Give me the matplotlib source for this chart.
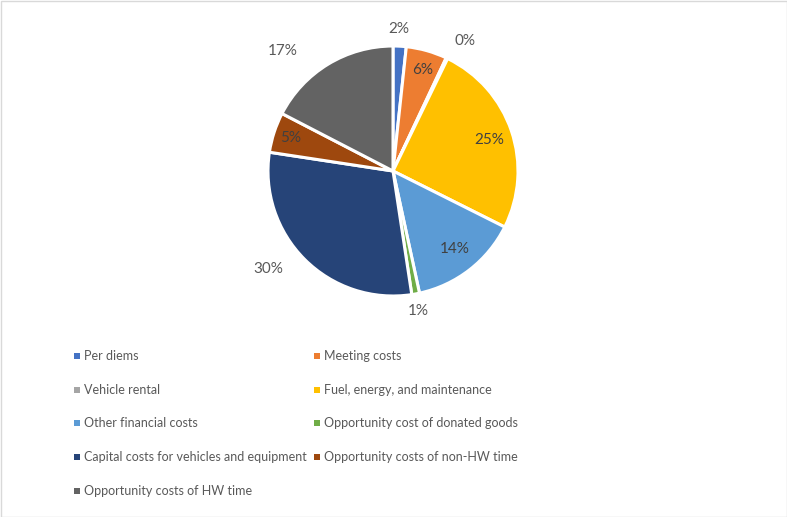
import numpy as np
import matplotlib
matplotlib.use("Agg")
import matplotlib.pyplot as plt
from matplotlib.patches import Rectangle

plt.rcParams['font.family'] = ['Lato', 'DejaVu Sans']

categories = ["Per diems", "Meeting costs", "Vehicle rental",
              "Fuel, energy, and maintenance", "Other financial costs",
              "Opportunity cost of donated goods",
              "Capital costs for vehicles and equipment",
              "Opportunity costs of non-HW time", "Opportunity costs of HW time"]
values = [1.7, 5.3, 0.2, 25.2, 14.2, 1.0, 29.8, 5.2, 17.4]
pct_labels = ["2%", "6%", "0%", "25%", "14%", "1%", "30%", "5%", "17%"]

colors = ["#4472C4", "#ED7D31", "#A5A5A5", "#FFC000", "#5B9BD5",
          "#70AD47", "#264478", "#9E480E", "#636363"]
# label placement styling (radial distance, angular shift in degrees)
label_dist = [1.14, 0.84, 1.19, 0.81, 0.80, 1.14, 1.27, 0.86, 1.30]
label_shift = [-0.6, 0.8, 3.4, 0.7, -0.5, 0.4, 7.0, 0.0, -11.2]
inside = [False, True, False, True, True, False, False, True, False]

W, H = 787, 517
fig = plt.figure(figsize=(W / 100, H / 100), dpi=100)

cx, cy, R = 393, 171, 125
ax = fig.add_axes([(cx - R) / W, (H - cy - R) / H, 2 * R / W, 2 * R / H])
wedges, _ = ax.pie(values, colors=colors, startangle=90, counterclock=False,
                   wedgeprops=dict(edgecolor="white", linewidth=2.2))
ax.set_xlim(-1, 1)
ax.set_ylim(-1, 1)
ax.set_aspect("equal")
ax.axis("off")

total = sum(values)
cum = 0.0
for i, v in enumerate(values):
    mid = (cum + v / 2) / total * 360 + label_shift[i]
    cum += v
    ang = np.deg2rad(90 - mid)
    x = label_dist[i] * np.cos(ang)
    y = label_dist[i] * np.sin(ang)
    ax.text(x, y, pct_labels[i], ha="center", va="center", fontsize=11,
            color="#404040" if inside[i] else "#595959", clip_on=False)

# legend (row-wise, two columns)
col_x = [77, 317]
row_y = [356, 390, 423, 457, 491]
for i, name in enumerate(categories):
    r, c = divmod(i, 2)
    x0 = col_x[c]
    y0 = row_y[r]
    fig.add_artist(Rectangle(((x0 - 3) / W, (H - y0 - 3) / H), 6 / W, 6 / H,
                             transform=fig.transFigure, facecolor=colors[i],
                             edgecolor="none"))
    fig.text((x0 + 7) / W, (H - y0) / H, name, ha="left", va="center",
             fontsize=9, color="#595959")

fig.add_artist(Rectangle((0.5 / W, 0.5 / H), (W - 1) / W, (H - 1) / H,
                         transform=fig.transFigure, facecolor="none",
                         edgecolor="#D9D9D9", linewidth=1))

fig.savefig("out.png", dpi=100, facecolor="white")
